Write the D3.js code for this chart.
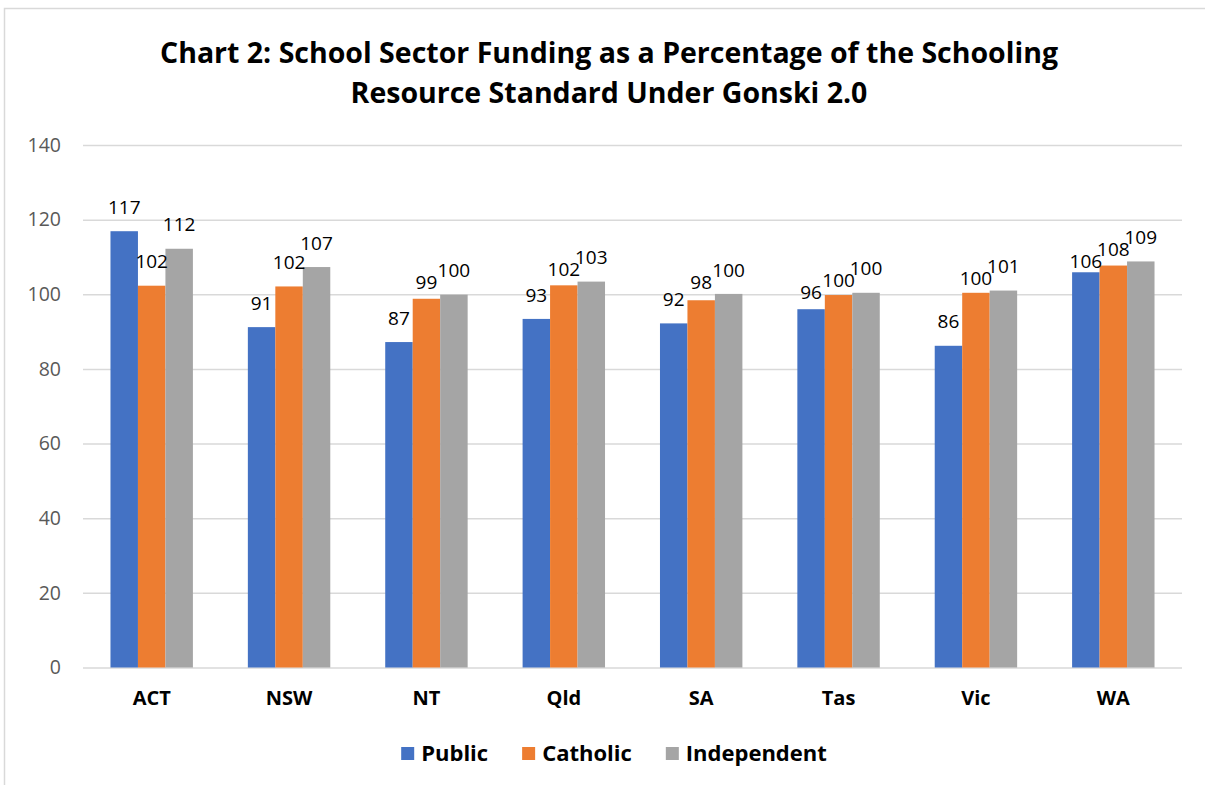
<!DOCTYPE html>
<html>
<head>
<meta charset="utf-8">
<script src="https://cdn.jsdelivr.net/npm/d3@7"></script>
<style>
  body { margin: 0; background: #fff; }
  svg { display: block; font-family: "Open Sans", sans-serif; }
</style>
</head>
<body>
<div id="container"></div>
<script>
(function(){

    // ---------------------------------------------------------------- data
    const states = ["ACT", "NSW", "NT", "Qld", "SA", "Tas", "Vic", "WA"];
    const sectors = ["Public", "Catholic", "Independent"];
    const publicValues      = [116.9, 91.2, 87.2, 93.4, 92.2, 96.0, 86.2, 105.9];
    const catholicValues    = [102.3, 102.1, 98.8, 102.4, 98.4, 99.8, 100.4, 107.7];
    const independentValues = [112.2, 107.3, 99.9, 103.4, 100.1, 100.4, 101.0, 108.8];
    const yTicks = [0, 20, 40, 60, 80, 100, 120, 140];
    const titleLines = [
        "Chart 2: School Sector Funding as a Percentage of the Schooling",
        "Resource Standard Under Gonski 2.0"
    ];

    const seriesValues = [publicValues, catholicValues, independentValues];
    const colors = ["#4472C4", "#ED7D31", "#A5A5A5"];

    const width = 1205;
    const height = 785;
    const margin = {top: 145, right: 23, bottom: 118, left: 83};

    const svg = d3.select("#container").append("svg")
        .attr("width", width)
        .attr("height", height);

    // chart frame
    svg.append("rect")
        .attr("x", 4.5).attr("y", 8.5)
        .attr("width", width + 20).attr("height", height + 20)
        .attr("fill", "none")
        .attr("stroke", "#d9d9d9")
        .attr("stroke-width", 1.5);

    // title
    svg.append("g")
        .selectAll("text")
        .data(titleLines)
        .join("text")
        .attr("x", 609)
        .attr("y", (d, i) => 63 + i * 40)
        .attr("text-anchor", "middle")
        .style("font-size", "28.5px")
        .style("font-weight", "bold")
        .attr("fill", "#000")
        .text(d => d);

    // scales
    const x0 = d3.scaleBand()
        .domain(states)
        .range([margin.left, width - margin.right]);
    const x1 = d3.scaleBand()
        .domain(sectors)
        .range([0, x0.bandwidth()])
        .paddingOuter(1);
    const y = d3.scaleLinear()
        .domain([0, 140])
        .range([height - margin.bottom + 0.5, margin.top]);

    // gridlines + y labels
    const yAxis = svg.append("g")
        .attr("transform", `translate(${margin.left},0)`)
        .call(d3.axisLeft(y)
            .tickValues(yTicks)
            .tickSize(-(width - margin.left - margin.right))
            .tickPadding(22));
    yAxis.select(".domain").remove();
    yAxis.selectAll(".tick line")
        .attr("stroke", "#d9d9d9")
        .attr("stroke-width", 1.5);
    yAxis.selectAll(".tick text")
        .attr("fill", "#595959")
        .style("font-size", "19.5px")
        .style("font-family", "'Open Sans', sans-serif");

    // bars
    const rows = states.map((s, i) => ({
        state: s,
        values: sectors.map((k, j) => ({sector: k, value: seriesValues[j][i], color: colors[j]}))
    }));

    const groups = svg.append("g")
        .selectAll("g")
        .data(rows)
        .join("g")
        .attr("transform", d => `translate(${x0(d.state)},0)`);

    groups.selectAll("rect")
        .data(d => d.values)
        .join("rect")
        .attr("x", d => x1(d.sector))
        .attr("y", d => y(d.value))
        .attr("width", x1.bandwidth())
        .attr("height", d => y(0) - y(d.value))
        .attr("fill", d => d.color);

    // data labels: centred ~24px above the bar, nudged down when crowding a neighbour
    const labelFont = 19;
    const labels = groups.selectAll("text")
        .data(d => d.values)
        .join("text")
        .attr("x", d => x1(d.sector) + x1.bandwidth() / 2)
        .attr("text-anchor", "middle")
        .attr("dy", "0.35em")
        .style("font-size", labelFont + "px")
        .attr("fill", "#000")
        .text(d => Math.round(d.value));

    groups.each(function() {
        const nodes = d3.select(this).selectAll("text").nodes();
        const info = nodes.map(n => {
            const d = d3.select(n).datum();
            return {node: n, d, cx: x1(d.sector) + x1.bandwidth() / 2,
                    w: n.getComputedTextLength() + 8, cy: y(d.value) - 24};
        });
        const order = info.map((_, i) => i).sort((a, b) => info[b].d.value - info[a].d.value);
        const placed = new Set();
        order.forEach(i => {
            const a = info[i];
            [i - 1, i + 1].forEach(j => {
                if (!placed.has(j)) return;
                const b = info[j];
                const overlapX = Math.abs(a.cx - b.cx) < (a.w + b.w) / 2;
                const overlapY = Math.abs(a.cy - b.cy) < 13;
                if (overlapX && overlapY) a.cy = Math.max(a.cy, b.cy + 12);
            });
            placed.add(i);
        });
        info.forEach(a => d3.select(a.node).attr("y", a.cy));
    });

    // x axis labels
    const xAxis = svg.append("g")
        .attr("transform", `translate(0,${y(0)})`)
        .call(d3.axisBottom(x0).tickSize(0).tickPadding(23));
    xAxis.select(".domain").remove();
    xAxis.selectAll(".tick text")
        .attr("fill", "#000")
        .style("font-size", "20px")
        .style("font-weight", "bold")
        .style("font-family", "'Open Sans', sans-serif");

    // legend
    const legend = svg.append("g");
    const items = legend.selectAll("g")
        .data(sectors)
        .join("g");
    items.append("rect")
        .attr("y", 747)
        .attr("width", 13).attr("height", 13)
        .attr("fill", (d, i) => colors[i]);
    items.append("text")
        .attr("x", 20)
        .attr("y", 761)
        .style("font-size", "22px")
        .style("font-weight", "bold")
        .attr("fill", "#000")
        .text(d => d);

    let offset = 0;
    const gap = 34;
    items.each(function() {
        const w = 20 + this.querySelector("text").getComputedTextLength();
        d3.select(this).attr("data-w", w);
    });
    const total = d3.sum(items.nodes(), n => +n.getAttribute("data-w")) + gap * (sectors.length - 1);
    const start = 614 - total / 2;
    items.attr("transform", function() {
        const t = `translate(${start + offset},0)`;
        offset += +this.getAttribute("data-w") + gap;
        return t;
    });

})();
</script>
</body>
</html>
